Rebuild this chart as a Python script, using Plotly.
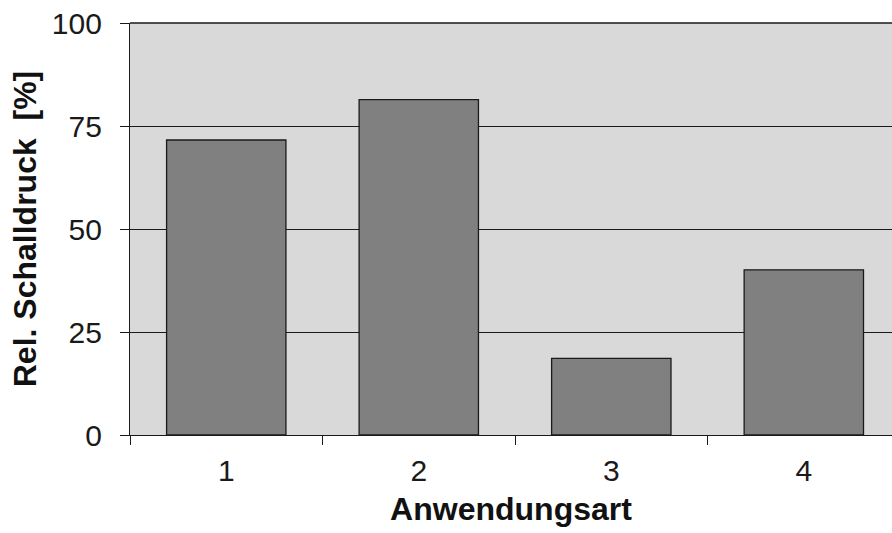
import plotly.graph_objects as go

categories = ["1", "2", "3", "4"]
values = [71.6, 81.4, 18.6, 40.1]
y_ticks = [0, 25, 50, 75, 100]

fig = go.Figure()
fig.add_trace(go.Bar(
    x=categories, y=values,
    marker=dict(color="#808080", line=dict(color="#1a1a1a", width=1.3)),
    showlegend=False,
))

font = "Liberation Sans, Arial, sans-serif"
fig.update_layout(
    width=892, height=533,
    margin=dict(l=130, r=0, t=23, b=98, pad=0),
    paper_bgcolor="white", plot_bgcolor="#d9d9d9",
    bargap=0.38,
    font=dict(family=font, color="#1a1a1a"),
    # top frame line of the plot area (the 100 % gridline)
    shapes=[dict(type="line", xref="x domain", yref="y domain", x0=0, x1=1, y0=1, y1=1,
                 line=dict(color="#1a1a1a", width=1.3), layer="below")],
)
fig.update_xaxes(
    type="category", range=[-0.5, 3.458], automargin=False,
    showline=True, linecolor="#1a1a1a", linewidth=1.3,
    ticks="outside", tickson="boundaries", ticklen=9, tickcolor="#1a1a1a", tickwidth=1.3,
    showgrid=False,
    tickfont=dict(size=30, color="#1a1a1a"),
    ticklabelstandoff=9,
    title=dict(text="<b>Anwendungsart</b>", font=dict(size=32, color="#111"), standoff=11),
)
fig.update_yaxes(
    range=[0, 100], tickvals=y_ticks, automargin=False,
    showline=True, linecolor="#1a1a1a", linewidth=1.3,
    ticks="outside", ticklen=9, tickcolor="#1a1a1a", tickwidth=1.3,
    showgrid=True, gridcolor="#1a1a1a", gridwidth=1.3,
    zeroline=False, ticklabeloverflow="allow",
    tickfont=dict(size=30, color="#1a1a1a"),
    ticklabelstandoff=12,
    title=dict(text="<b>Rel. Schalldruck&nbsp; [%]</b>", font=dict(size=32, color="#111"), standoff=5),
)

fig.write_html("out.html", config={"displayModeBar": False},
               post_script="document.body.style.margin='0';")
